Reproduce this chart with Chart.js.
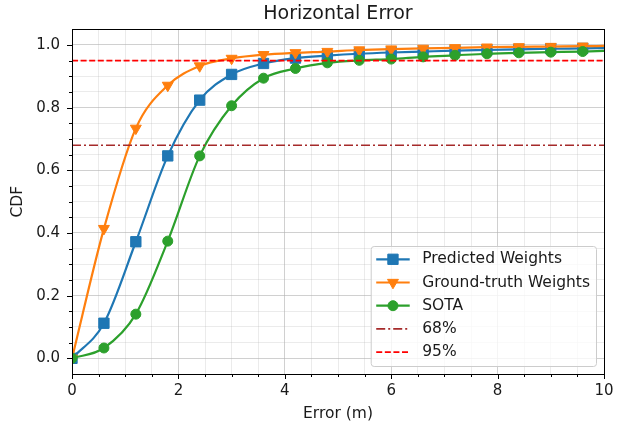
<!DOCTYPE html>
<html>
<head>
<meta charset="utf-8">
<script src="https://cdn.jsdelivr.net/npm/chart.js"></script>
<style>
  html, body { margin: 0; padding: 0; background: #fff; }
  #wrap { width: 627px; height: 431px; }
</style>
</head>
<body>
<div id="wrap"><canvas id="cdfChart" width="627" height="431"></canvas></div>
<script>
// error (m) at each marker, the last one is where the curves end
const errorX = [0, 0.6, 1.2, 1.8, 2.4, 3.0, 3.6, 4.2, 4.8, 5.4, 6.0, 6.6, 7.2, 7.8, 8.4, 9.0, 9.6, 10];
const predictedWeights   = [0, 0.112, 0.372, 0.646, 0.824, 0.906, 0.941, 0.958, 0.966, 0.972, 0.976, 0.979, 0.982, 0.984, 0.986, 0.988, 0.989, 0.990];
const groundTruthWeights = [0, 0.414, 0.734, 0.871, 0.933, 0.957, 0.969, 0.975, 0.979, 0.984, 0.987, 0.989, 0.991, 0.993, 0.994, 0.995, 0.996, 0.997];
const sotaValues         = [0, 0.033, 0.141, 0.374, 0.646, 0.806, 0.894, 0.925, 0.943, 0.951, 0.955, 0.962, 0.967, 0.972, 0.975, 0.977, 0.979, 0.981];
const seriesLabels = ['Predicted Weights', 'Ground-truth Weights', 'SOTA'];
const refLevels = [0.68, 0.95];
const refLabels = ['68%', '95%'];

const xMajorTicks = [0, 2, 4, 6, 8, 10];
const xTickLabels = ['0', '2', '4', '6', '8', '10'];
const yMajorTicks = [0, 0.2, 0.4, 0.6, 0.8, 1.0];
const yTickLabels = ['0.0', '0.2', '0.4', '0.6', '0.8', '1.0'];

const FONT = '"DejaVu Sans", "Liberation Sans", sans-serif';
const TEXT = '#1a1a1a';

// majors plus 3 minor ticks in between each pair
function withMinors(majors) {
  const out = [];
  for (let i = 0; i < majors.length; i++) {
    out.push(majors[i]);
    if (i < majors.length - 1) {
      const step = (majors[i + 1] - majors[i]) / 4;
      for (let k = 1; k < 4; k++) out.push(majors[i] + k * step);
    }
  }
  return out;
}
function majorIndex(v, majors) {
  return majors.findIndex(m => Math.abs(m - v) < 1e-9);
}
function toPoints(ys) {
  return errorX.map((x, i) => ({x: x, y: ys[i]}));
}
const lastIdx = errorX.length - 1;
const markerRadius = function(r) {
  return ctx => (ctx.dataIndex < lastIdx ? r : 0);
};

var drawMarker = function(ctx, style, x, y, r, color) {
  ctx.save();
  ctx.fillStyle = color;
  ctx.strokeStyle = color;
  ctx.lineWidth = 1;
  ctx.setLineDash([]);
  ctx.beginPath();
  if (style === 'rect') {
    const s = Math.SQRT1_2 * r;
    ctx.rect(x - s, y - s, 2 * s, 2 * s);
  } else if (style === 'triangle') {
    // pointing down
    ctx.moveTo(x, y + r);
    ctx.lineTo(x - r * Math.sin(Math.PI / 3), y - r / 2);
    ctx.lineTo(x + r * Math.sin(Math.PI / 3), y - r / 2);
    ctx.closePath();
  } else {
    ctx.arc(x, y, r, 0, Math.PI * 2);
  }
  ctx.fill();
  ctx.stroke();
  ctx.restore();
};

// spines + major/minor tick marks
const frame = {
  id: 'frame',
  afterDraw(chart) {
    const {ctx, chartArea: a, scales: {x, y}} = chart;
    ctx.save();
    ctx.strokeStyle = '#000';
    ctx.lineWidth = 1;
    ctx.beginPath();
    x.ticks.forEach(t => {
      const px = Math.round(x.getPixelForValue(t.value)) + 0.5;
      const len = majorIndex(t.value, xMajorTicks) >= 0 ? 5 : 3;
      ctx.moveTo(px, a.bottom);
      ctx.lineTo(px, a.bottom + len);
    });
    y.ticks.forEach(t => {
      const py = Math.round(y.getPixelForValue(t.value)) + 0.5;
      const len = majorIndex(t.value, yMajorTicks) >= 0 ? 5 : 3;
      ctx.moveTo(a.left, py);
      ctx.lineTo(a.left - len, py);
    });
    ctx.stroke();
    ctx.strokeRect(Math.round(a.left) + 0.5, Math.round(a.top) + 0.5,
      Math.round(a.right - a.left), Math.round(a.bottom - a.top));
    ctx.restore();
  }
};

// legend box in the lower right corner of the axes
const legendBox = {
  id: 'legendBox',
  afterDraw(chart) {
    const {ctx, chartArea: a} = chart;
    const items = chart.data.datasets;
    const rowH = 23.2, padX = 5.5, handleW = 33.5, gap = 12.5;
    ctx.save();
    ctx.font = '15.5px ' + FONT;
    const textW = Math.max.apply(null, items.map(d => ctx.measureText(d.label).width));
    const w = padX + handleW + gap + textW + 6;
    const h = rowH * items.length + 4;
    const x0 = a.right - 8 - w, y0 = a.bottom - 8 - h;
    ctx.beginPath();
    ctx.roundRect(x0 + 0.5, y0 + 0.5, w, h, 3);
    ctx.fillStyle = 'rgba(255,255,255,0.8)';
    ctx.fill();
    ctx.strokeStyle = '#cccccc';
    ctx.lineWidth = 1;
    ctx.stroke();
    items.forEach((d, i) => {
      const cy = y0 + 13.3 + i * rowH;
      ctx.beginPath();
      ctx.strokeStyle = d.borderColor;
      ctx.lineWidth = d.borderWidth;
      ctx.setLineDash(d.borderDash || []);
      ctx.moveTo(x0 + padX, cy);
      ctx.lineTo(x0 + padX + handleW, cy);
      ctx.stroke();
      ctx.setLineDash([]);
      if (d.markerStyle) {
        drawMarker(ctx, d.markerStyle, x0 + padX + handleW / 2, cy, d.markerSize, d.borderColor);
      }
      ctx.fillStyle = TEXT;
      ctx.textBaseline = 'middle';
      ctx.textAlign = 'left';
      ctx.fillText(d.label, x0 + padX + handleW + gap, cy);
    });
    ctx.restore();
  }
};

const gridColor = function(majors) {
  return ctx => (majorIndex(ctx.tick.value, majors) >= 0 ? 'rgba(176,176,176,0.6)' : 'rgba(176,176,176,0.25)');
};

const xEnd = xMajorTicks[xMajorTicks.length - 1];

new Chart(document.getElementById('cdfChart'), {
  type: 'line',
  data: {
    datasets: [
      {
        label: seriesLabels[0], data: toPoints(predictedWeights),
        borderColor: '#1f77b4', backgroundColor: '#1f77b4', borderWidth: 2.2,
        pointStyle: 'rect', pointRadius: markerRadius(7.3), pointBorderWidth: 1,
        markerStyle: 'rect', markerSize: 7.3,
        cubicInterpolationMode: 'monotone', order: 5
      },
      {
        label: seriesLabels[1], data: toPoints(groundTruthWeights),
        borderColor: '#ff7f0e', backgroundColor: '#ff7f0e', borderWidth: 2.2,
        pointStyle: 'triangle', pointRotation: 180, pointRadius: markerRadius(6.3), pointBorderWidth: 1,
        markerStyle: 'triangle', markerSize: 6.3,
        cubicInterpolationMode: 'monotone', order: 4
      },
      {
        label: seriesLabels[2], data: toPoints(sotaValues),
        borderColor: '#2ca02c', backgroundColor: '#2ca02c', borderWidth: 2.2,
        pointStyle: 'circle', pointRadius: markerRadius(5), pointBorderWidth: 1,
        markerStyle: 'circle', markerSize: 5,
        cubicInterpolationMode: 'monotone', order: 3
      },
      {
        label: refLabels[0], data: [{x: 0, y: refLevels[0]}, {x: xEnd, y: refLevels[0]}],
        borderColor: '#a52a2a', borderWidth: 1.6, borderDash: [9, 3, 2, 3],
        pointRadius: 0, order: 2
      },
      {
        label: refLabels[1], data: [{x: 0, y: refLevels[1]}, {x: xEnd, y: refLevels[1]}],
        borderColor: '#ff0000', borderWidth: 1.6, borderDash: [6, 2.6],
        pointRadius: 0, order: 1
      }
    ]
  },
  options: {
    responsive: false,
    animation: false,
    devicePixelRatio: 1,
    layout: { padding: { left: 0, right: 23, top: 0, bottom: 0 } },
    plugins: {
      legend: { display: false },
      tooltip: { enabled: false },
      title: {
        display: true, text: 'Horizontal Error', color: TEXT, fullSize: false,
        font: { family: FONT, size: 19, weight: 'normal' },
        padding: { top: 3, bottom: 3.5 }
      }
    },
    scales: {
      x: {
        type: 'linear', min: 0, max: xEnd,
        afterBuildTicks: s => { s.ticks = withMinors(xMajorTicks).map(v => ({value: v})); },
        afterFit: s => { s.height = 57; },
        ticks: {
          autoSkip: false, maxRotation: 0, padding: 8, color: TEXT,
          font: { family: FONT, size: 15 },
          callback: v => { const i = majorIndex(v, xMajorTicks); return i >= 0 ? xTickLabels[i] : ''; }
        },
        grid: { drawTicks: false, color: gridColor(xMajorTicks), lineWidth: 1 },
        border: { display: false },
        title: {
          display: true, text: 'Error (m)', color: TEXT,
          font: { family: FONT, size: 15.5 }, padding: { top: 0, bottom: 8 }
        }
      },
      y: {
        type: 'linear', min: -0.05, max: 1.05,
        afterBuildTicks: s => { s.ticks = withMinors(yMajorTicks).map(v => ({value: v})); },
        afterFit: s => { s.width = 72; },
        ticks: {
          autoSkip: false, padding: 12, color: TEXT,
          font: { family: FONT, size: 15 },
          callback: v => { const i = majorIndex(v, yMajorTicks); return i >= 0 ? yTickLabels[i] : ''; }
        },
        grid: { drawTicks: false, color: gridColor(yMajorTicks), lineWidth: 1 },
        border: { display: false },
        title: {
          display: true, text: 'CDF', color: TEXT,
          font: { family: FONT, size: 15.5 }, padding: { top: 9, bottom: 0 }
        }
      }
    }
  },
  plugins: [frame, legendBox]
});
</script>
</body>
</html>
